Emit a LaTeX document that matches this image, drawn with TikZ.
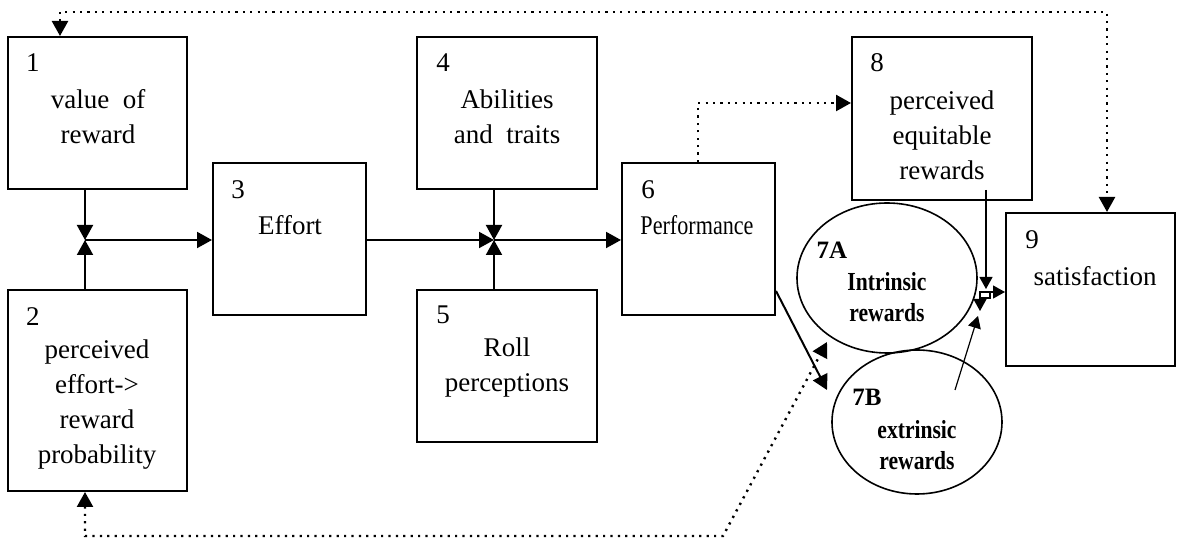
\documentclass[tikz,border=0pt]{standalone}
\usepackage{fontspec}
\setmainfont{Liberation Serif}
\usetikzlibrary{arrows.meta,shapes.geometric}
\begin{document}
\begin{tikzpicture}[x=0.5pt,y=-0.5pt,
  box/.style={draw,line width=1pt,rectangle,inner sep=0pt},
  oval/.style={draw,line width=0.8pt,ellipse,inner sep=0pt},
  txt/.style={inner sep=0pt,align=center,font=\fontsize{13.5}{17.5}\selectfont},
  num/.style={inner sep=0pt,font=\fontsize{13.5}{16}\selectfont},
  btxt/.style={inner sep=0pt,align=center,font=\fontsize{13}{15.5}\selectfont\bfseries},
  conn/.style={line width=1pt},
  thin/.style={line width=0.6pt},
  arr/.style={-{Triangle[length=7.5pt,width=8pt]}},
  sarr/.style={-{Triangle[length=6pt,width=6.5pt]}},
  dots/.style={line width=1.2pt,dash pattern=on 1.1pt off 2.6pt},
  dtips/.style={{Triangle[length=7.5pt,width=8pt]}-{Triangle[length=7.5pt,width=8pt]}}
]
\useasboundingbox (0,0) rectangle (1180,539);
% boxes
\node[box,minimum width=89.5pt,minimum height=76pt] (b1) at (97.5,113) {};
\node[box,minimum width=89.5pt,minimum height=100.5pt] (b2) at (97.5,390.5) {};
\node[box,minimum width=76.5pt,minimum height=76pt] (b3) at (289.5,239) {};
\node[box,minimum width=90pt,minimum height=76pt] (b4) at (507,113) {};
\node[box,minimum width=90pt,minimum height=76pt] (b5) at (507,366) {};
\node[box,minimum width=76.5pt,minimum height=76pt] (b6) at (698.5,239) {};
\node[box,minimum width=90pt,minimum height=81.5pt] (b8) at (942,118.5) {};
\node[box,minimum width=84.5pt,minimum height=76.5pt] (b9) at (1090.5,289.5) {};
\node[oval,minimum width=90pt,minimum height=75pt] (e7a) at (887,278) {};
\node[oval,minimum width=85pt,minimum height=72pt] (e7b) at (917,422) {};
% texts
\node[num] (n1) at (33,63) {1};
\node[txt] (t1) at (98,117) {value\ \ of\\reward};
\node[num] (n2) at (33,317) {2};
\node[txt] (t2) at (97,405) {perceived\\effort-{}>\\reward\\probability};
\node[num] (n3) at (238,190) {3};
\node[txt] (t3) at (290,225) {Effort};
\node[num] (n4) at (443,63) {4};
\node[txt] (t4) at (507,117) {Abilities\\and\ \ traits};
\node[num] (n5) at (443,315) {5};
\node[txt] (t5) at (507,368) {Roll\\perceptions};
\node[num] (n6) at (648,190) {6};
\node[inner sep=0pt,font=\fontsize{13.5}{16}\selectfont] (t6) at (697,225) {\scalebox{0.82}[1]{Performance}};
\node[num] (n8) at (877,63) {8};
\node[txt] (t8) at (942,135) {perceived\\equitable\\rewards};
\node[num] (n9) at (1032,240) {9};
\node[txt] (t9) at (1095,276) {satisfaction};
\node[inner sep=0pt,font=\fontsize{12.5}{14}\selectfont\bfseries] (n7a) at (832,250) {7A};
\node[btxt] (t7a) at (887,297) {\scalebox{0.83}[1]{Intrinsic}\\\scalebox{0.83}[1]{rewards}};
\node[inner sep=0pt,font=\fontsize{12.5}{14}\selectfont\bfseries] (n7b) at (867,397) {7B};
\node[btxt] (t7b) at (917,445) {\scalebox{0.83}[1]{extrinsic}\\\scalebox{0.83}[1]{rewards}};
% junctions and coordinates
\coordinate (jA) at (85,240);
\coordinate (jB) at (494,240);
\coordinate (c68) at (698,103);
\coordinate (tl) at (60,12);
\coordinate (tr) at (1107,12);
\coordinate (bl) at (85,536);
\coordinate (br) at (723,536);
\coordinate (tip7a) at (827,342);
\coordinate (s6) at (776,291);
\coordinate (tip7b) at (827,390);
\coordinate (s8) at (986,190);
\coordinate (j8) at (986,289);
\coordinate (q1) at (980,292);
\coordinate (q2) at (990,298);
\coordinate (qd) at (980,311);
\coordinate (s7b) at (955,390);
\coordinate (j7b) at (978,316);
% connectors
\draw[conn,arr] (jA |- b1.south) -- (jA);
\draw[conn,arr] (jA |- b2.north) -- (jA);
\draw[conn,arr] (jA) -- (b3.west |- jA);
\draw[conn,arr] (b3.east |- jB) -- (jB);
\draw[conn,arr] (jB |- b4.south) -- (jB);
\draw[conn,arr] (jB |- b5.north) -- (jB);
\draw[conn,arr] (jB) -- (b6.west |- jB);
\draw[dots,arr] (b6.north -| c68) -- (c68) -- (b8.west |- c68);
\draw[dots,dtips] (tl |- b1.north) -- (tl) -- (tr) -- (tr |- b9.north);
\draw[dots,dtips] (bl |- b2.south) -- (bl) -- (br) -- (tip7a);
\draw[conn,arr] (s6) -- (tip7b);
\draw[thin,sarr] (s8) -- (j8);
\draw[thin] (q1) rectangle (q2);
\draw[thin,sarr] (q2 |- q1) -- (b9.west |- q1);
\draw[thin,sarr] (q1 |- q2) -- (qd);
\draw[thin,sarr] (s7b) -- (j7b);
\end{tikzpicture}
\end{document}
